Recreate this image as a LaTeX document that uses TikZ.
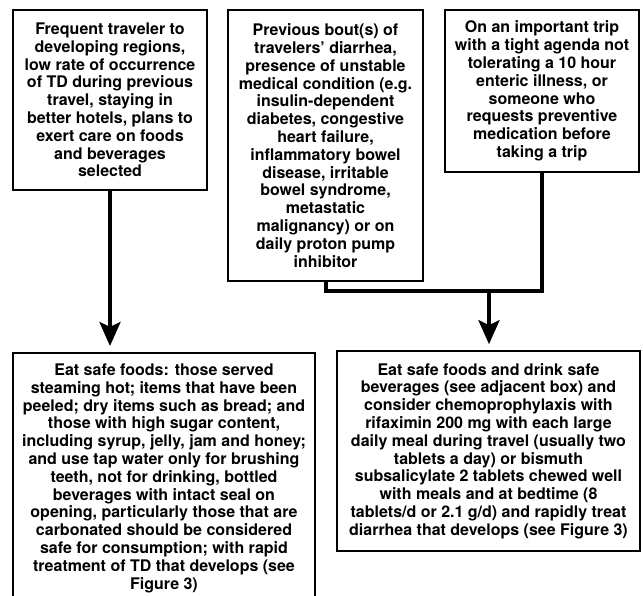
\documentclass[tikz,border=0pt]{standalone}
\usepackage{fontspec}
\setmainfont{TeX Gyre Heros}
\usetikzlibrary{arrows.meta}
\begin{document}
\begin{tikzpicture}[x=1pt,y=-1pt,
  box/.style={draw=black, line width=1.6pt, align=center, inner sep=0pt,
    font=\fontsize{16}{17.8}\selectfont\bfseries},
  conn/.style={line width=4pt, line join=miter},
  arr/.style={conn, -{Stealth[length=24pt,width=21pt,inset=5pt]}, shorten >=6pt}]
\useasboundingbox (0,0) rectangle (643,596);
\node[box, minimum width=194pt, minimum height=180pt] (A) at (110,100)
  {Frequent traveler to\\developing regions,\\low rate of occurrence\\of TD during previous\\travel, staying in\\better hotels, plans to\\exert care on foods\\and beverages\\selected};
\node[box, minimum width=195pt, minimum height=271pt] (B) at (325.5,145.5)
  {Previous bout(s) of\\travelers’ diarrhea,\\presence of unstable\\medical condition (e.g.\\insulin-dependent\\diabetes, congestive\\heart failure,\\inflammatory bowel\\disease, irritable\\bowel syndrome,\\metastatic\\malignancy) or on\\daily proton pump\\inhibitor};
\node[box, minimum width=194pt, minimum height=162pt] (C) at (542,91)
  {On an important trip\\with a tight agenda not\\tolerating a 10 hour\\enteric illness, or\\someone who\\requests preventive\\medication before\\taking a trip};
\node[box, minimum width=302pt, anchor=north, inner ysep=11pt] (D) at (164,352)
  {Eat safe foods: those served\\steaming hot; items that have been\\peeled; dry items such as bread; and\\those with high sugar content,\\including syrup, jelly, jam and honey;\\and use tap water only for brushing\\teeth, not for drinking, bottled\\beverages with intact seal on\\opening, particularly those that are\\carbonated should be considered\\safe for consumption; with rapid\\treatment of TD that develops (see\\Figure 3)};
\node[box, minimum width=303pt, minimum height=200pt] (E) at (488.5,451)
  {Eat safe foods and drink safe\\beverages (see adjacent box) and\\consider chemoprophylaxis with\\rifaximin 200 mg with each large\\daily meal during travel (usually two\\tablets a day) or bismuth\\subsalicylate 2 tablets chewed well\\with meals and at bedtime (8\\tablets/d or 2.1 g/d) and rapidly treat\\diarrhea that develops (see Figure 3)};
\coordinate (J) at (489,291);
\draw[arr] (A.south) -- (A.south |- D.north);
\draw[conn] (B.south) -- (B.south |- J) -- (C.south |- J) -- (C.south);
\draw[arr] (J) -- (J |- E.north);
\end{tikzpicture}
\end{document}
